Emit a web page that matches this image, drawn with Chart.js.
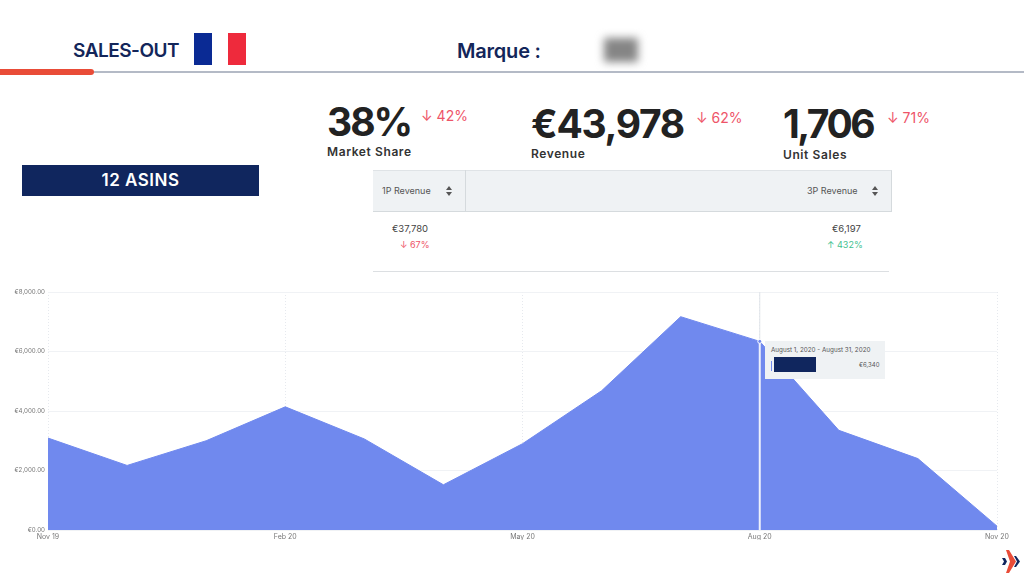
<!DOCTYPE html>
<html>
<head>
<meta charset="utf-8">
<script src="https://cdn.jsdelivr.net/npm/chart.js@4"></script>
<style>
  html, body { margin: 0; padding: 0; background: #fff; }
  body { width: 1024px; height: 576px; overflow: hidden; position: relative; font-family: Inter, sans-serif; }
  #wrap { position: absolute; left: 0; top: 0; width: 1024px; height: 576px; }
  .abs { position: absolute; white-space: nowrap; }
  .head { font-family: Inter, sans-serif; font-weight: 600; color: #13265a; font-size: 19px; letter-spacing: -0.5px; }
  .big { font-weight: 700; color: #222; font-size: 39px; letter-spacing: -1.5px; line-height: 44px; }
  .sub { font-weight: 600; color: #333; font-size: 12px; line-height: 14px; letter-spacing: 0.6px; }
  .delta { color: #ee5468; font-size: 14px; line-height: 18px; }
  .small { font-size: 9px; color: #444; line-height: 11px; }
</style>
</head>
<body>
<!-- header -->
<div class="abs head" style="left:73px;top:39px">SALES-OUT</div>
<div class="abs" style="left:194px;top:33px;width:18px;height:32px;background:#0a2a94"></div>
<div class="abs" style="left:228px;top:33px;width:18px;height:32px;background:#ee2a3c"></div>
<div class="abs head" style="left:457px;top:39px;font-size:20px;letter-spacing:-0.2px">Marque :</div>
<div class="abs" style="left:604px;top:38px;width:34px;height:24px;background:#858585;filter:blur(4px)"></div>
<div class="abs" style="left:0;top:71px;width:1024px;height:2px;background:#b4bac6"></div>
<div class="abs" style="left:0;top:69px;width:94px;height:6px;background:#e94c38;border-radius:0 3px 3px 0"></div>

<!-- KPI -->
<div class="abs big" style="left:327px;top:100px;letter-spacing:-2px">38%</div>
<div class="abs delta" style="left:421px;top:107px">↓ 42%</div>
<div class="abs sub" style="left:327px;top:145px">Market Share</div>
<div class="abs big" style="left:531px;top:102px;letter-spacing:-1.3px">€43,978</div>
<div class="abs delta" style="left:696px;top:109px">↓ 62%</div>
<div class="abs sub" style="left:531px;top:147px">Revenue</div>
<div class="abs big" style="left:783px;top:102px;letter-spacing:-2.5px">1,706</div>
<div class="abs delta" style="left:887px;top:109px">↓ 71%</div>
<div class="abs sub" style="left:783px;top:148px">Unit Sales</div>

<div class="abs" style="left:22px;top:165px;width:237px;height:31px;background:#10265e;color:#fff;font-weight:600;font-size:17px;letter-spacing:0.5px;line-height:31px;text-align:center">12 ASINS</div>

<!-- revenue table -->
<div class="abs" style="left:373px;top:170px;width:518px;height:40px;background:#eff2f4;border-top:1px solid #dfe3e6;border-bottom:1px solid #d5dadd;border-right:1px solid #d5dadd"></div>
<div class="abs" style="left:465px;top:170px;width:1px;height:41px;background:#d5dadd"></div>
<div class="abs small" style="left:382px;top:185px;color:#555">1P Revenue</div>
<div class="abs small" style="left:807px;top:185px;color:#555">3P Revenue</div>
<svg class="abs" style="left:446px;top:186px" width="6" height="10"><polygon points="3,0 6,4 0,4" fill="#555"/><polygon points="3,10 6,6 0,6" fill="#555"/></svg>
<svg class="abs" style="left:872px;top:186px" width="6" height="10"><polygon points="3,0 6,4 0,4" fill="#555"/><polygon points="3,10 6,6 0,6" fill="#555"/></svg>
<div class="abs small" style="left:392px;top:223px;font-size:9.5px">€37,780</div>
<div class="abs small" style="left:400px;top:239px;color:#ee5468">↓ 67%</div>
<div class="abs small" style="left:832px;top:223px;font-size:9.5px">€6,197</div>
<div class="abs small" style="left:827px;top:239px;color:#3fbf8f">↑ 432%</div>
<div class="abs" style="left:373px;top:271px;width:516px;height:1px;background:#dcdfe2"></div>

<div id="wrap"><canvas id="myChart" width="1024" height="576"></canvas></div>

<!-- tooltip of the hovered month -->
<div class="abs" style="left:765px;top:341px;width:120px;height:38px;background:#eff2f4"></div>
<div class="abs" style="left:771px;top:346px;font-size:6.3px;color:#555">August 1, 2020 - August 31, 2020</div>
<div class="abs" style="left:771px;top:361px;width:1px;height:10px;background:#7089ee"></div>
<div class="abs" style="left:774px;top:357px;width:42px;height:15px;background:#10265e"></div>
<div class="abs" style="left:859px;top:361px;font-size:6px;color:#555">€6,340</div>

<!-- logo -->
<svg class="abs" style="left:1002px;top:550px" width="18" height="23" viewBox="0 0 18 23">
  <polygon points="0,8 3,8 5,11.5 3,15 0,15 2,11.5" fill="#10265e"/>
  <polygon points="4,0 7,0 14,11.5 7,23 4,23 8,11.5" fill="#e94c38"/>
  <polygon points="12,6 14,6 18,11.5 14,17 12,17 15,11.5" fill="#10265e"/>
</svg>

<script>
var months = ['Nov 19','Dec 19','Jan 20','Feb 20','Mar 20','Apr 20','May 20','Jun 20','Jul 20','Aug 20','Sep 20','Oct 20','Nov 20'];
var revenue = [3090, 2170, 3000, 4140, 3060, 1520, 2900, 4680, 7170, 6340, 3350, 2400, 130];
var shownMonths = ['Nov 19','Feb 20','May 20','Aug 20','Nov 20'];
var hoverMonth = 'Aug 20';

// vertical marker on the hovered month
var hoverLine = {
  id: 'hoverLine',
  afterDatasetsDraw: function(chart) {
    var c = chart.ctx, a = chart.chartArea;
    var i = months.indexOf(hoverMonth);
    var x = chart.scales.x.getPixelForValue(i);
    var y = chart.scales.y.getPixelForValue(revenue[i]);
    c.save();
    c.strokeStyle = '#dfe3e8';
    c.lineWidth = 1;
    c.beginPath(); c.moveTo(x, a.top); c.lineTo(x, y); c.stroke();
    c.strokeStyle = '#eef1fb';
    c.lineWidth = 2;
    c.beginPath(); c.moveTo(x, y); c.lineTo(x, a.bottom); c.stroke();
    c.fillStyle = '#7089ee';
    c.strokeStyle = '#fff';
    c.lineWidth = 1;
    c.beginPath(); c.arc(x, y, 2, 0, Math.PI * 2); c.fill(); c.stroke();
    c.restore();
  }
};

new Chart(document.getElementById('myChart'), {
  type: 'line',
  data: {
    labels: months,
    datasets: [{
      data: revenue,
      borderColor: '#7089ee',
      backgroundColor: '#7089ee',
      borderWidth: 1,
      fill: true,
      tension: 0,
      pointRadius: 0
    }]
  },
  plugins: [hoverLine],
  options: {
    responsive: false,
    animation: false,
    events: [],
    layout: { padding: { left: 0, top: 292, right: 27, bottom: 36 } },
    plugins: { legend: { display: false }, tooltip: { enabled: false } },
    scales: {
      x: {
        afterFit: function(s) { s.height = 10; },
        grid: {
          color: function(ctx) {
            return shownMonths.indexOf(months[ctx.index]) >= 0 ? '#e6e9ee' : 'rgba(0,0,0,0)';
          },
          drawTicks: false
        },
        border: { display: false, dash: [1, 2] },
        ticks: {
          autoSkip: false,
          maxRotation: 0,
          padding: 3,
          color: '#777',
          font: { family: 'Inter', size: 7 },
          callback: function(v, i) { return shownMonths.indexOf(months[i]) >= 0 ? months[i] : ''; }
        }
      },
      y: {
        min: 0,
        max: 8000,
        afterFit: function(s) { s.width = 48; },
        grid: { color: '#f0f2f5', drawTicks: false },
        border: { display: false },
        ticks: {
          stepSize: 2000,
          padding: 3,
          color: '#777',
          font: { family: 'Inter', size: 6.2 },
          callback: function(v) { return '€' + v.toLocaleString('en-US', { minimumFractionDigits: 2 }); }
        }
      }
    }
  }
});
</script>
</body>
</html>
